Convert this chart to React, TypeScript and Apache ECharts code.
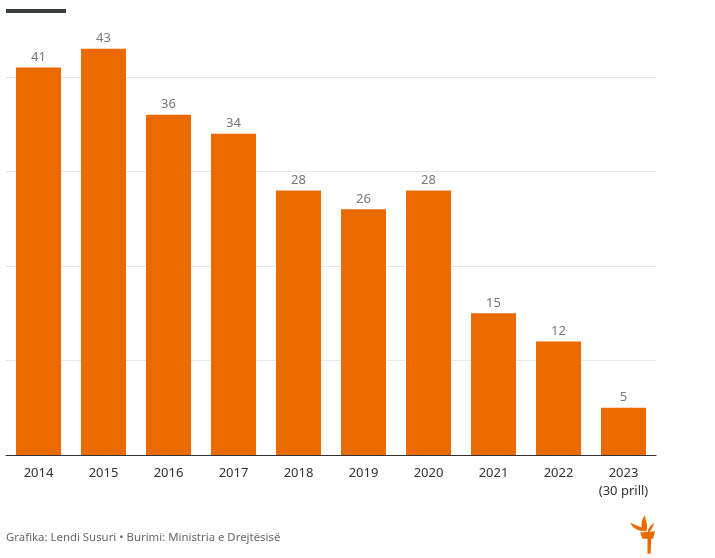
import React, { useEffect, useRef } from "react";
import * as echarts from "echarts";

const categories = ["2014", "2015", "2016", "2017", "2018", "2019", "2020", "2021", "2022", "2023\n(30 prill)"];
const values = [41, 43, 36, 34, 28, 26, 28, 15, 12, 5];
const yTicks = [0, 10, 20, 30, 40];
const yMax = 48;
const footer = "Grafika: Lendi Susuri • Burimi: Ministria e Drejtësisë";

const FONT = "'Noto Sans', Lato, sans-serif";

const logoPath =
  "M8 14 L20 13 L18.5 19 L17 19 L16.5 31 L14 31 L14 19 L10 19 Z " +
  "M10 13 C5 12 2 10 0 6 C4 8 8 9 11 11 Z " +
  "M11 13 C8 9 9 4 12 0 C12 4 15 8 13 13 Z " +
  "M14 13 C15 10 17 8 19 6 C19 9 17 12 15 14 Z";

let registered = false;

export default function App() {
  const ref = useRef<HTMLDivElement>(null);
  useEffect(() => {
    if (!ref.current) return;
    if (!registered) {
      echarts.graphic.registerShape("logo", echarts.graphic.extendPath(logoPath, {}) as any);
      registered = true;
    }
    const chart = echarts.init(ref.current, null, { renderer: "svg" });
    chart.setOption({
      animation: false,
      grid: { left: 6, right: 59, top: 1.4, bottom: 103, containLabel: false },
      xAxis: {
        type: "category",
        data: categories,
        axisLine: { show: true, lineStyle: { color: "#333", width: 1 } },
        axisTick: { show: false },
        axisLabel: { color: "#333", fontSize: 13, fontFamily: FONT, margin: 8, lineHeight: 18, interval: 0 },
      },
      yAxis: {
        type: "value",
        min: yTicks[0],
        max: yMax,
        interval: 10,
        axisLabel: { show: false },
        axisLine: { show: false },
        axisTick: { show: false },
        splitLine: { show: true, showMaxLine: false, lineStyle: { color: "#e6e6e6", width: 1 } },
      },
      series: [
        {
          type: "bar",
          data: values,
          barWidth: 45,
          itemStyle: { color: "#EB6A00" },
          label: {
            show: true,
            position: "top",
            distance: 5,
            color: "#777",
            fontSize: 13,
            fontFamily: FONT,
          },
        },
      ],
      graphic: [
        { type: "rect", left: 6, top: 9, shape: { width: 60, height: 4 }, style: { fill: "#3a3d3d" } },
        {
          type: "text",
          left: 6,
          top: 531,
          style: { text: footer, fill: "#666", fontSize: 11.4, fontFamily: FONT },
        },
        {
          type: "logo",
          x: 630,
          y: 515,
          scaleX: 1.25,
          scaleY: 1.25,
          style: { fill: "#EB6A00" },
        },
      ],
    });
    return () => chart.dispose();
  }, []);
  return <div ref={ref} style={{ width: 715, height: 558, position: "fixed", left: 0, top: 0 }} />;
}
